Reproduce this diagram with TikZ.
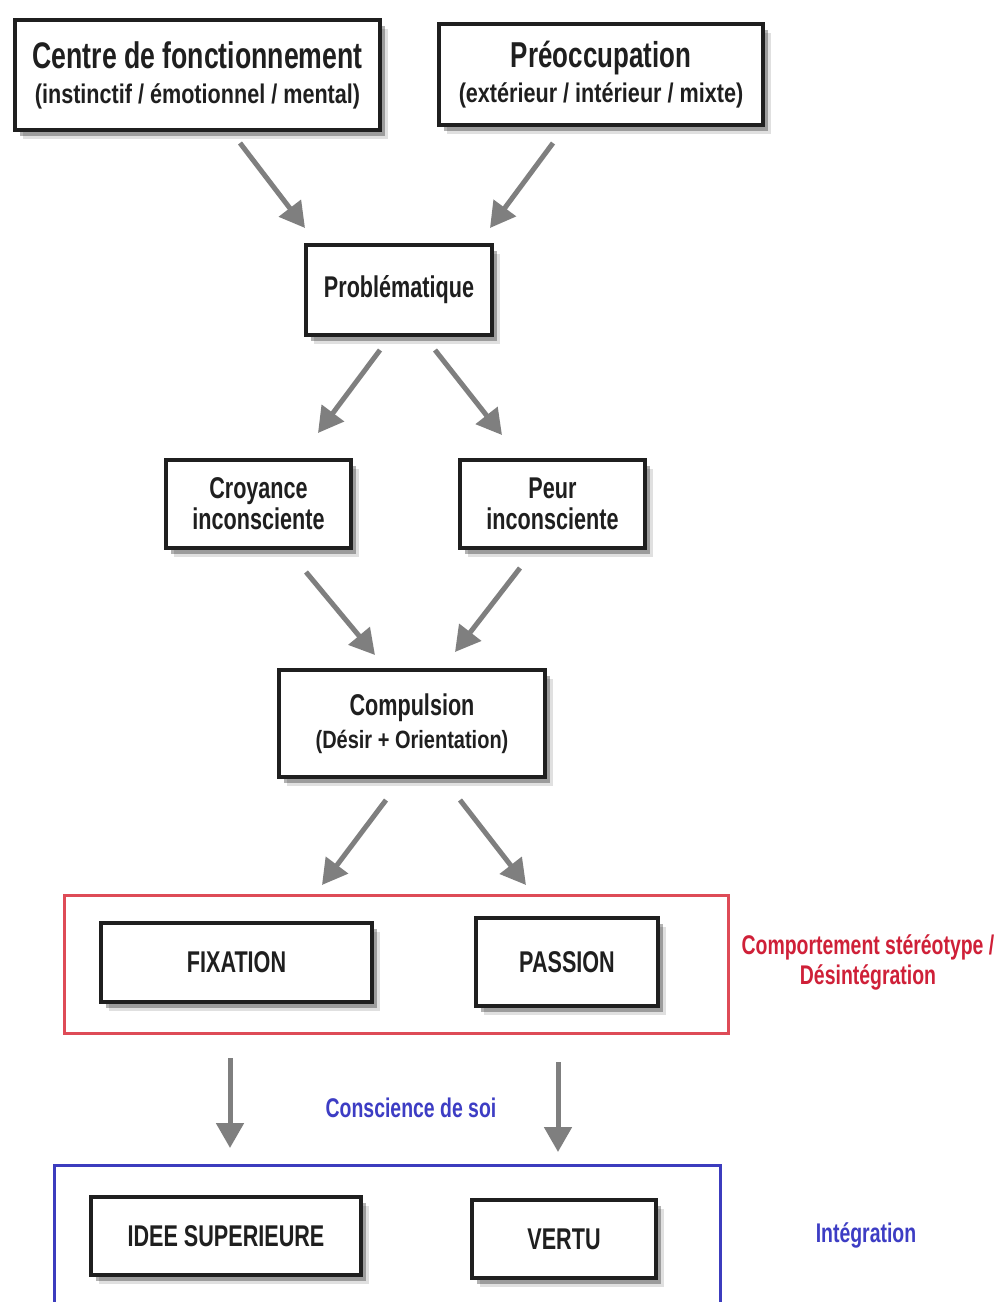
\documentclass[tikz,border=0pt]{standalone}
\usepackage{fontspec}
\newfontfamily\schemafont[FakeStretch=0.72]{Liberation Sans}
\newfontfamily\sousfont[FakeStretch=0.8]{Liberation Sans}
\usetikzlibrary{
	calc,
	arrows.meta,
	shadows,
	positioning
	}
\definecolor{gris}{HTML}{7F7F7F}
\definecolor{rouge-cadre}{HTML}{DE4B57}
\definecolor{rouge-texte}{HTML}{CF2038}
\definecolor{bleu-cadre}{HTML}{3C3CBE}
\definecolor{bleu-texte}{HTML}{3D3DC4}
\tikzstyle{boite-std}=[draw=black!88, line width=4pt, fill=white, align=center, text=black!88,
	inner sep=0pt, font={\schemafont\bfseries\fontsize{30pt}{31pt}\selectfont},
	drop shadow={shadow xshift=8pt, shadow yshift=-9pt, fill=black, opacity=0.12},
	drop shadow={shadow xshift=5pt, shadow yshift=-6pt, fill=black, opacity=0.3}]
\tikzstyle{fleche-grise}=[draw=gris, line width=5pt, -{Triangle[length=25pt,width=27pt]}]
\tikzstyle{cadre-std}=[line width=3pt, inner sep=0pt]
\tikzstyle{legende}=[align=center, font={\schemafont\bfseries\fontsize{27pt}{30pt}\selectfont}]
\newcommand{\sousligne}[1]{{\sousfont\bfseries\fontsize{27pt}{34pt}\selectfont #1}}

\begin{document}
\begin{tikzpicture}[x=1pt,y=-1pt]
	\clip (0,0) rectangle (1000,1302);
	\fill[white] (0,0) rectangle (1000,1302);
	% cadres
	\node[cadre-std, draw=rouge-cadre, minimum width=664pt, minimum height=138pt] (cadre-desint) at (396.5,964.5) {};
	\node[cadre-std, draw=bleu-cadre, minimum width=666pt, minimum height=240pt] (cadre-integ) at (387.5,1285) {};
	% boites
	\node[boite-std, minimum width=365pt, minimum height=110pt] (centre) at (197.5,75)
		{{\fontsize{37pt}{34pt}\selectfont Centre de fonctionnement}\\[4pt]\sousligne{(instinctif / émotionnel / mental)}};
	\node[boite-std, minimum width=324pt, minimum height=101pt] (preocc) at (601,74.5)
		{{\fontsize{36pt}{34pt}\selectfont Préoccupation}\\[4pt]\sousligne{(extérieur / intérieur / mixte)}};
	\node[boite-std, minimum width=186pt, minimum height=90pt] (probleme) at (399,290) {Problématique};
	\node[boite-std, minimum width=185pt, minimum height=88pt] (croyance) at (258.5,504) {Croyance\\inconsciente};
	\node[boite-std, minimum width=185pt, minimum height=88pt] (peur) at (552.5,504) {Peur\\inconsciente};
	\node[boite-std, minimum width=266pt, minimum height=107pt] (compulsion) at (412,723.5)
		{Compulsion\\[2pt]{\sousfont\bfseries\fontsize{25pt}{32pt}\selectfont (Désir + Orientation)}};
	\node[boite-std, minimum width=271pt, minimum height=79pt] (fixation) at (236.5,962.5) {FIXATION};
	\node[boite-std, minimum width=182pt, minimum height=88pt] (passion) at (567,962) {PASSION};
	\node[boite-std, minimum width=270pt, minimum height=78pt] (idee) at (226,1236) {IDEE SUPERIEURE};
	\node[boite-std, minimum width=184pt, minimum height=78pt] (vertu) at (564,1239) {VERTU};
	% legendes
	\node[legende, text=rouge-texte] (lg-desint) at (868,962) {Comportement stéréotype /\\Désintégration};
	\node[legende, text=bleu-texte] (lg-conscience) at (411,1108) {Conscience de soi};
	\node[legende, text=bleu-texte] (lg-integ) at (866,1235) {Intégration};
	% fleches
	\draw[fleche-grise] ($(centre.south)+(42.5,11)$) -- ($(probleme.north)+(-94,-15)$);
	\draw[fleche-grise] ($(preocc.south)+(-48,16)$) -- ($(probleme.north)+(91,-15)$);
	\draw[fleche-grise] ($(probleme.south)+(-19,13)$) -- ($(croyance.north)+(59.5,-25)$);
	\draw[fleche-grise] ($(probleme.south)+(36,13)$) -- ($(peur.north)+(-50.5,-23)$);
	\draw[fleche-grise] ($(croyance.south)+(47.5,22)$) -- ($(compulsion.north)+(-37,-13)$);
	\draw[fleche-grise] ($(peur.south)+(-32.5,18)$) -- ($(compulsion.north)+(43,-16)$);
	\draw[fleche-grise] ($(compulsion.south)+(-26,21)$) -- ($(cadre-desint.north)+(-74.5,-9)$);
	\draw[fleche-grise] ($(compulsion.south)+(48,21)$) -- ($(cadre-desint.north)+(129.5,-9)$);
	\draw[fleche-grise] ($(fixation.south)+(-6.5,54)$) -- ($(idee.north)+(4,-47)$);
	\draw[fleche-grise] ($(passion.south)+(-9,54)$) -- ($(vertu.north)+(-6,-46)$);
\end{tikzpicture}
\end{document}
